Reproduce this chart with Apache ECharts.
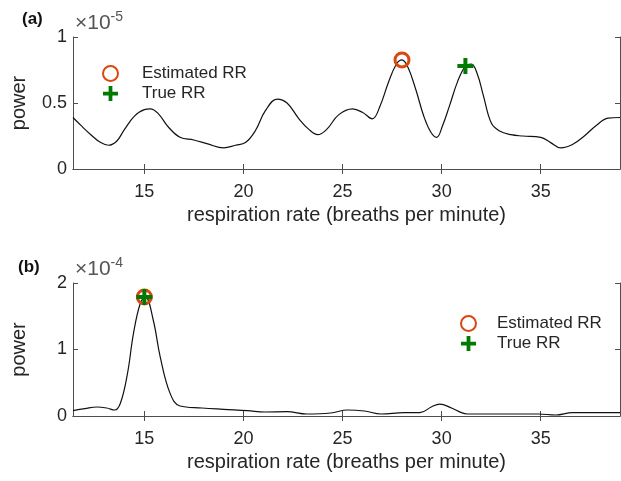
<!DOCTYPE html>
<html>
<head>
<meta charset="utf-8">
<script src="https://cdn.jsdelivr.net/npm/echarts@6/dist/echarts.min.js"></script>
<style>
  html, body { margin: 0; padding: 0; background: #fff; }
  #chart { width: 621px; height: 481px; }
</style>
</head>
<body>
<div id="chart"></div>
<script>
// panel (a): spectrum in units of 1e-5
const rateA = [11.4, 11.8, 12.3, 12.8, 13.2, 13.6, 14.0, 14.5, 15.0, 15.3, 15.7, 16.2, 16.8, 17.5, 18.2, 19.0, 19.6, 20.1, 20.6, 21.1, 21.7, 22.2, 22.8, 23.3, 23.75, 24.2, 24.8, 25.5, 26.0, 26.5, 26.9, 27.3, 27.7, 28.0, 28.3, 28.7, 29.1, 29.45, 29.75, 30.05, 30.4, 30.8, 31.2, 31.5, 31.8, 32.1, 32.5, 32.9, 33.5, 34.1, 35.0, 35.5, 36.0, 36.6, 37.2, 37.8, 38.4, 39.0];
const powerA = [0.39, 0.33, 0.26, 0.2, 0.18, 0.21, 0.3, 0.4, 0.45, 0.455, 0.42, 0.32, 0.24, 0.22, 0.19, 0.16, 0.18, 0.2, 0.29, 0.44, 0.53, 0.5, 0.38, 0.3, 0.26, 0.3, 0.41, 0.455, 0.43, 0.38, 0.48, 0.65, 0.79, 0.826, 0.77, 0.6, 0.4, 0.28, 0.24, 0.33, 0.48, 0.66, 0.78, 0.795, 0.72, 0.56, 0.35, 0.29, 0.26, 0.25, 0.24, 0.2, 0.16, 0.185, 0.25, 0.33, 0.385, 0.39];
const estA = [28.0, 0.826];
const trueA = [31.2, 0.78];

// panel (b): spectrum in units of 1e-4
const rateB = [11.4, 12.0, 12.6, 13.1, 13.5, 13.8, 14.15, 14.45, 14.8, 15.05, 15.45, 15.8, 16.3, 16.8, 17.9, 19.0, 20.2, 21.1, 22.2, 23.2, 24.4, 25.25, 26.1, 26.95, 28.1, 28.9, 29.5, 29.9, 30.5, 31.0, 31.3, 33.0, 34.9, 35.75, 36.6, 39.0];
const powerB = [0.08, 0.11, 0.135, 0.12, 0.09, 0.2, 0.64, 1.24, 1.7, 1.79, 1.44, 0.89, 0.34, 0.15, 0.12, 0.1, 0.08, 0.06, 0.065, 0.03, 0.045, 0.09, 0.075, 0.03, 0.05, 0.05, 0.14, 0.18, 0.12, 0.05, 0.03, 0.03, 0.03, 0.015, 0.05, 0.05];
const estB = [15.0, 1.79];
const trueB = [15.0, 1.79];

const xTicks = [15, 20, 25, 30, 35];
const yTicksA = [0, 0.5, 1];
const yTicksB = [0, 1, 2];

const txt = '#262626';
const axisCol = '#4d4d4d';
const font = 'Liberation Sans, Arial, sans-serif';
const plusPath = 'path://M6,0H10V6H16V10H10V16H6V10H0V6H6Z';

const chart = echarts.init(document.getElementById('chart'));

function xAx(grid, labels) {
  return {
    type: 'value', gridIndex: grid, min: 11.4, max: 39,
    position: labels ? 'bottom' : 'top',
    name: labels ? 'respiration rate (breaths per minute)' : '',
    nameLocation: 'middle', nameGap: 36,
    nameTextStyle: { color: txt, fontSize: 20, fontFamily: font },
    axisLine: { show: true, lineStyle: { color: axisCol, width: 1 } },
    axisTick: { show: true, inside: true, length: 5, customValues: xTicks, lineStyle: { color: axisCol } },
    axisLabel: { show: labels, customValues: xTicks, color: txt, fontSize: 18, fontFamily: font, margin: 14 },
    splitLine: { show: false }
  };
}
function yAx(grid, ticks, labels) {
  return {
    type: 'value', gridIndex: grid, min: ticks[0], max: ticks[2],
    position: labels ? 'left' : 'right',
    name: labels ? 'power' : '',
    nameLocation: 'middle', nameGap: 44,
    nameTextStyle: { color: txt, fontSize: 20, fontFamily: font },
    axisLine: { show: true, lineStyle: { color: axisCol, width: 1 } },
    axisTick: { show: true, inside: true, length: 5, customValues: ticks, lineStyle: { color: axisCol } },
    axisLabel: { show: labels, customValues: ticks, color: txt, fontSize: 18, fontFamily: font, margin: 6 },
    splitLine: { show: false }
  };
}
function pairs(xs, ys) { return xs.map((x, i) => [x, ys[i]]); }

function markers(xi, yi, est, tru) {
  return [
    {
      name: 'Estimated RR', type: 'scatter', xAxisIndex: xi, yAxisIndex: yi,
      symbol: 'circle', symbolSize: 14, z: 5,
      itemStyle: { color: 'rgba(0,0,0,0)', borderColor: '#D9480F', borderWidth: 3, opacity: 1 },
      data: [est]
    },
    {
      name: 'True RR', type: 'scatter', xAxisIndex: xi, yAxisIndex: yi,
      symbol: plusPath, symbolSize: 16, z: 6,
      itemStyle: { color: '#007A00', opacity: 1 },
      data: [tru]
    }
  ];
}

function legend(left, top, pad) {
  return {
    orient: 'vertical', left: left, top: top, itemGap: 3,
    itemWidth: 15, itemHeight: 15,
    data: ['Estimated RR', 'True RR'],
    selectedMode: false,
    textStyle: { color: txt, fontSize: 17, fontFamily: font, padding: [0, 0, 0, pad] }
  };
}

const supText = () => ({
  a: { fontSize: 21, fontFamily: font, fill: '#555' },
  b: { fontSize: 14, fontFamily: font, fill: '#555', verticalAlign: 'top', padding: [0, 0, 12, 0] }
});

chart.setOption({
  animation: false,
  grid: [
    { left: 73, top: 37, right: 1, height: 132 },
    { left: 73, top: 283, right: 1, height: 133 }
  ],
  xAxis: [xAx(0, true), xAx(0, false), xAx(1, true), xAx(1, false)],
  yAxis: [yAx(0, yTicksA, true), yAx(0, yTicksA, false), yAx(1, yTicksB, true), yAx(1, yTicksB, false)],
  legend: [legend(97, 60, 19), legend(455, 310, 16)],
  graphic: [
    { type: 'text', left: 22, top: 11, style: { text: '(a)', font: 'bold 17px ' + font, fill: '#111' } },
    { type: 'text', left: 18, top: 259, style: { text: '(b)', font: 'bold 17px ' + font, fill: '#111' } },
    { type: 'text', left: 75, top: 10, style: { text: '{a|×10}{b|-5}', rich: supText() } },
    { type: 'text', left: 75, top: 256, style: { text: '{a|×10}{b|-4}', rich: supText() } }
  ],
  series: [
    {
      type: 'line', xAxisIndex: 0, yAxisIndex: 0, data: pairs(rateA, powerA),
      smooth: 0.4, showSymbol: false, lineStyle: { color: '#111', width: 1.2 }
    },
    ...markers(0, 0, estA, trueA),
    {
      type: 'line', xAxisIndex: 2, yAxisIndex: 2, data: pairs(rateB, powerB),
      smooth: 0.4, showSymbol: false, lineStyle: { color: '#111', width: 1.2 }
    },
    ...markers(2, 2, estB, trueB)
  ]
});
</script>
</body>
</html>
